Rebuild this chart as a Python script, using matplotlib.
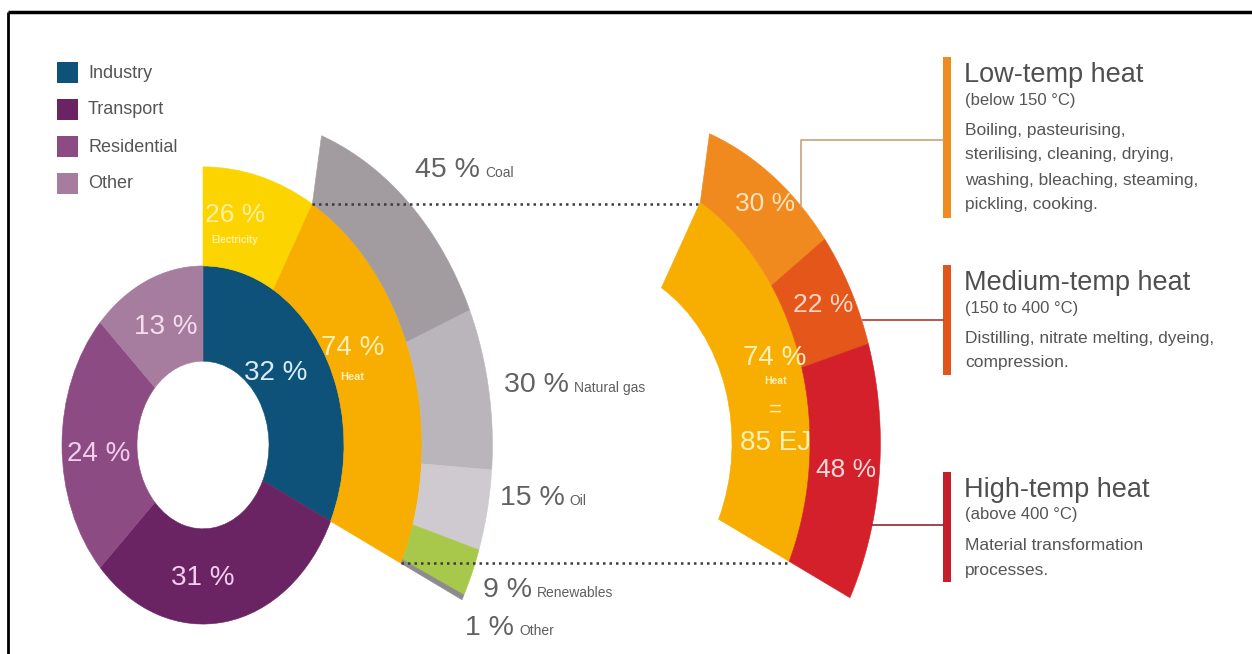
import numpy as np
import matplotlib
matplotlib.use("Agg")
import matplotlib.pyplot as plt
from matplotlib.patches import Wedge, Rectangle, Polygon

plt.rcParams['font.family'] = ['Liberation Sans Narrow', 'Liberation Sans', 'DejaVu Sans']

# data
sector_names = ['Industry', 'Transport', 'Residential', 'Other']
sector_share = [32, 31, 24, 13]
sector_colors = ['#0f5279', '#6b2463', '#8d4b83', '#a67c9f']

use_names = ['Electricity', 'Heat']
use_share = [26, 74]
use_colors = ['#fcd400', '#f7ae00']

fuel_names = ['Coal', 'Natural gas', 'Oil', 'Renewables', 'Other']
fuel_share = [45, 30, 15, 9, 1]
fuel_colors = ['#a29ca1', '#bab5ba', '#cfcacf', '#a8c84b', '#8c8c8c']

temp_names = ['Low-temp heat', 'Medium-temp heat', 'High-temp heat']
temp_ranges = ['(below 150 °C)', '(150 to 400 °C)', '(above 400 °C)']
temp_share = [30, 22, 48]
temp_colors = ['#f08a1f', '#e4561a', '#d3202a']
temp_bar_colors = ['#ee8c22', '#e2541b', '#c41f2b']
temp_text = [
    ['Boiling, pasteurising,', 'sterilising, cleaning, drying,',
     'washing, bleaching, steaming,', 'pickling, cooking.'],
    ['Distilling, nitrate melting, dyeing,', 'compression.'],
    ['Material transformation', 'processes.'],
]
heat_ej = 85

W, H = 1252, 654
SY = 1.27  # the picture is squeezed, so circles come out as ellipses


def P(x, y):
    return (x, (H - y) / SY)


def pol(c, r, a):
    a = np.radians(a)
    return (c[0] + r * np.cos(a), c[1] + r * np.sin(a))


def outer_r(a, off=30.4, R=259.0):
    # outer edge of the outermost ring is a circle a bit right of the centre
    c = np.cos(np.radians(a))
    return off * c + np.sqrt(off ** 2 * c ** 2 - off ** 2 + R ** 2)


def ring(center, r_in, r_out, start, span, shares, colors):
    angs = []
    a = start
    tot = sum(shares)
    for s, col in zip(shares, colors):
        b = a - span * s / tot
        ax.add_patch(Wedge(center, r_out, b, a, width=r_out - r_in,
                           facecolor=col, edgecolor=col, lw=0.4))
        angs.append((a, b))
        a = b
    return angs


def outer_band(center, r_in, start, span, shares, colors, extra=4):
    angs = []
    a = start
    tot = sum(shares)
    for i, (s, col) in enumerate(zip(shares, colors)):
        b = a - span * s / tot
        inner = np.linspace(a, b, 40)
        a_top = a + extra if i == 0 else a
        outer = np.linspace(b, a_top, 40)
        pts = [pol(center, r_in, t) for t in inner]
        pts += [pol(center, outer_r(t), t) for t in outer]
        ax.add_patch(Polygon(pts, closed=True, facecolor=col, edgecolor=col, lw=0.4))
        angs.append((a, b))
        a = b
    return angs


fig = plt.figure(figsize=(W / 100, H / 100), dpi=100)
ax = fig.add_axes([0, 0, 1, 1])
ax.set_xlim(0, W)
ax.set_ylim(0, H / SY)
ax.axis('off')

LC = P(203, 445)
RC = P(591, 443)
R0, R1, R2 = 66, 141, 219

sec = ring(LC, R0, R1, 90, 360, sector_share, sector_colors)
ind_span = sec[0][0] - sec[0][1]
use = ring(LC, R1, R2, 90, ind_span, use_share, use_colors)
h1, h2 = use[1]
fuel = outer_band(LC, R2, h1, h1 - h2, fuel_share, fuel_colors)

# right: heat again, split by temperature
ax.add_patch(Wedge(RC, R2, h2, h1, width=R2 - R1, facecolor=use_colors[1],
                   edgecolor=use_colors[1], lw=0.4))
temp = outer_band(RC, R2, h1, h1 - h2, temp_share, temp_colors)

# dotted links
for a in (h1, h2):
    p1 = pol(LC, R2, a)
    p2 = pol(RC, R2, a)
    ax.plot([p1[0], p2[0]], [p1[1], p1[1]], ls=(0, (1, 1.6)), color='#3c3c3c',
            lw=1.8, zorder=5)

# sector labels
sec_cols = ['#d5edf6', '#f2cdee', '#f2cdee', '#f5dcef']
sec_pos = [(92, 38), (105, -90), (105, 184), (100, 112)]
for s, (r, a), c in zip(sector_share, sec_pos, sec_cols):
    x, y = pol(LC, r, a)
    ax.text(x, y, f'{s} %', color=c, fontsize=20, ha='center', va='center')

x, y = pol(LC, 184, 80)
ax.text(x, y, f'{use_share[0]} %', color='#fff1a0', fontsize=19, ha='center', va='center')
ax.text(x, y - 25 / SY, use_names[0], color='#fff1a0', fontsize=7, fontweight='bold',
        ha='center', va='center')
x, y = pol(LC, 168, 27)
ax.text(x, y, f'{use_share[1]} %', color='#fff0b8', fontsize=20, ha='center', va='center')
ax.text(x, y - 29 / SY, use_names[1], color='#fff0b8', fontsize=8, fontweight='bold',
        ha='center', va='center')

# fuel labels outside
fig.canvas.draw()
rend = fig.canvas.get_renderer()
fuel_pos = [(415, 170), (504, 385), (500, 498), (483, 590), (465, 628)]
for s, n, (px, py) in zip(fuel_share, fuel_names, fuel_pos):
    t = ax.text(*P(px, py), f'{s} %', color='#626262', fontsize=20.5, ha='left',
                va='center')
    bb = t.get_window_extent(rend)
    ax.text(*P(bb.x1 + 5, py + 3), n, color='#5f5f5f', fontsize=10, ha='left',
            va='center')

# right labels
x, y = pol(RC, 196, 20)
ax.text(x, y, f'{use_share[1]} %', color='#fff0b8', fontsize=20, ha='center', va='center')
ax.text(x, y - 23 / SY, use_names[1], color='#fff0b8', fontsize=7.5, fontweight='bold',
        ha='center', va='center')
ax.text(x, y - 52 / SY, '=', color='#fff0b8', fontsize=16, ha='center', va='center')
ax.text(x, y - 85 / SY, f'{heat_ej} EJ', color='#fff0b8', fontsize=20, ha='center',
        va='center')
t_cols = ['#fde3c0', '#fbd6c8', '#fcd8dc']
for s, (a, b), c in zip(temp_share, temp, t_cols):
    x, y = pol(RC, 256, (a + b) / 2)
    ax.text(x, y, f'{s} %', color=c, fontsize=19, ha='center', va='center')

# annotation blocks on the right
bars = [(57, 218), (265, 375), (472, 582)]
for i, (y0, y1) in enumerate(bars):
    ax.add_patch(Rectangle(P(943, y1), 8, (y1 - y0) / SY, facecolor=temp_bar_colors[i],
                           edgecolor='none'))
    ax.text(*P(964, y0 + 18), temp_names[i], color='#4f4f4f', fontsize=19.5,
            ha='left', va='center')
    ax.text(*P(965, y0 + 43), temp_ranges[i], color='#555555', fontsize=12,
            ha='left', va='center')
    for k, line in enumerate(temp_text[i]):
        ax.text(*P(965, y0 + 73 + 25 * k), line, color='#555555', fontsize=12.5,
                ha='left', va='center')

# connectors
p = pol(RC, outer_r(41.5), 41.5)
ax.plot([p[0], p[0], 943], [p[1], P(0, 140)[1], P(0, 140)[1]], color='#c9a27a', lw=1.2)
for a, yy, c in [(19, 320, '#b23a30'), (-13, 525, '#8a2a2a')]:
    p = pol(RC, outer_r(a), a)
    ax.plot([p[0], 943], [P(0, yy)[1], P(0, yy)[1]], color=c, lw=1.2)

# legend
for i, (n, c) in enumerate(zip(sector_names, sector_colors)):
    y = 62 + 37 * i
    ax.add_patch(Rectangle(P(57, y + 21), 21, 21 / SY, facecolor=c, edgecolor='none'))
    ax.text(*P(88, y + 11), n, color='#555555', fontsize=13, ha='left', va='center')

# frame
ax.plot([8, W], [P(0, 12)[1]] * 2, color='black', lw=2.5, solid_capstyle='butt')
ax.plot([8, 8], [P(0, 12)[1], 0], color='black', lw=2, solid_capstyle='butt')

fig.savefig('out.png', dpi=100)
